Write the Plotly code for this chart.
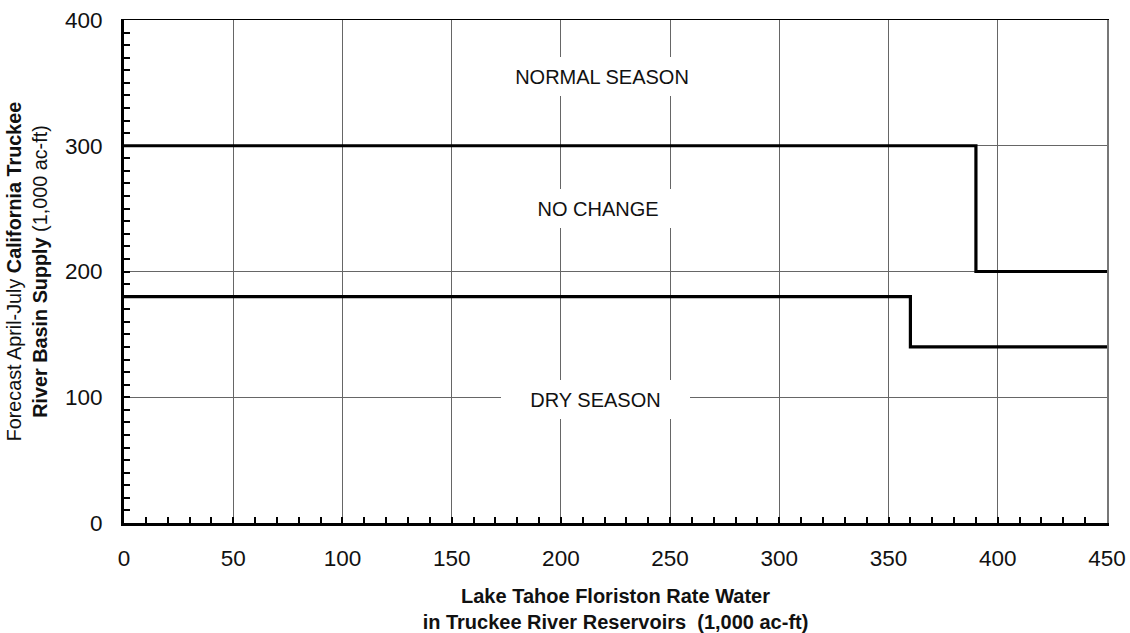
import plotly.graph_objects as go

# ---- data ----
x_tick_vals = [0, 50, 100, 150, 200, 250, 300, 350, 400, 450]
y_tick_vals = [0, 100, 200, 300, 400]

upper_x = [0, 390, 450]          # boundary between NORMAL SEASON and NO CHANGE
upper_y = [300, 200, 200]
lower_x = [0, 360, 450]          # boundary between NO CHANGE and DRY SEASON
lower_y = [180, 140, 140]

zone_labels = ["NORMAL SEASON", "NO CHANGE", "DRY SEASON"]
zone_x = [219, 217, 216]
zone_y = [355, 250, 98]
zone_box_w = [232, 180, 189]

FONT = "Arial, Liberation Sans, Helvetica, sans-serif"

fig = go.Figure()
for xs, ys in [(upper_x, upper_y), (lower_x, lower_y)]:
    fig.add_trace(go.Scatter(x=xs, y=ys, mode="lines", line_shape="hv",
                             line=dict(color="black", width=3.2),
                             hoverinfo="skip", showlegend=False))

for t, ax, ay, w in zip(zone_labels, zone_x, zone_y, zone_box_w):
    fig.add_annotation(x=ax, y=ay, xref="x", yref="y", text=t, showarrow=False,
                       bgcolor="white", borderpad=0, borderwidth=0,
                       width=w, height=39,
                       font=dict(family=FONT, size=20, color="#111"))

fig.update_layout(
    width=1130, height=633,
    margin=dict(l=124, r=23, t=20, b=110),
    paper_bgcolor="white", plot_bgcolor="white",
    font=dict(family=FONT, color="#111"),
    xaxis=dict(range=[0, 450], tickvals=x_tick_vals, showgrid=True,
               gridcolor="#666", gridwidth=1, zeroline=False,
               showline=True, linecolor="black", linewidth=3,
               ticks="inside", ticklen=6, tickwidth=2, tickcolor="black",
               minor=dict(dtick=10, ticks="inside", ticklen=6, tickwidth=2,
                          tickcolor="black", showgrid=False),
               tickfont=dict(size=22.5, color="#111"), ticklabelstandoff=13,
               ticklabeloverflow="allow",
               title=dict(text="<b>Lake Tahoe Floriston Rate Water<br>in Truckee River Reservoirs  (1,000 ac-ft)</b>",
                          font=dict(size=20, color="#111"), standoff=19),
               automargin=False, fixedrange=True),
    yaxis=dict(range=[0, 400], tickvals=y_tick_vals, showgrid=True,
               gridcolor="#666", gridwidth=1, zeroline=False,
               showline=True, linecolor="black", linewidth=3,
               ticks="inside", ticklen=6, tickwidth=2, tickcolor="black",
               minor=dict(dtick=10, ticks="inside", ticklen=6, tickwidth=2,
                          tickcolor="black", showgrid=False),
               tickfont=dict(size=22.5, color="#111"), ticklabelstandoff=14,
               ticklabeloverflow="allow",
               title=dict(text="Forecast April-July <b>California Truckee</b><br><b>River Basin Supply</b> (1,000 ac-ft)",
                          font=dict(size=19.8, color="#111"), standoff=13),
               automargin=False, fixedrange=True),
    xaxis2=dict(overlaying="x", side="top", range=[0, 450], showline=True,
                linecolor="black", linewidth=1, showticklabels=False,
                showgrid=False, zeroline=False, ticks="", fixedrange=True),
    yaxis2=dict(overlaying="y", side="right", range=[0, 400], showline=True,
                linecolor="#777", linewidth=2, showticklabels=False,
                showgrid=False, zeroline=False, ticks="", fixedrange=True),
)
# invisible trace to activate the overlay axes (thin top/right frame)
fig.add_trace(go.Scatter(x=[None], y=[None], xaxis="x2", yaxis="y2",
                         showlegend=False, hoverinfo="skip"))

fig.write_html(
    "out.html",
    config={"displayModeBar": False, "staticPlot": True},
    post_script="document.body.style.margin='0';document.body.style.overflow='hidden';",
)
